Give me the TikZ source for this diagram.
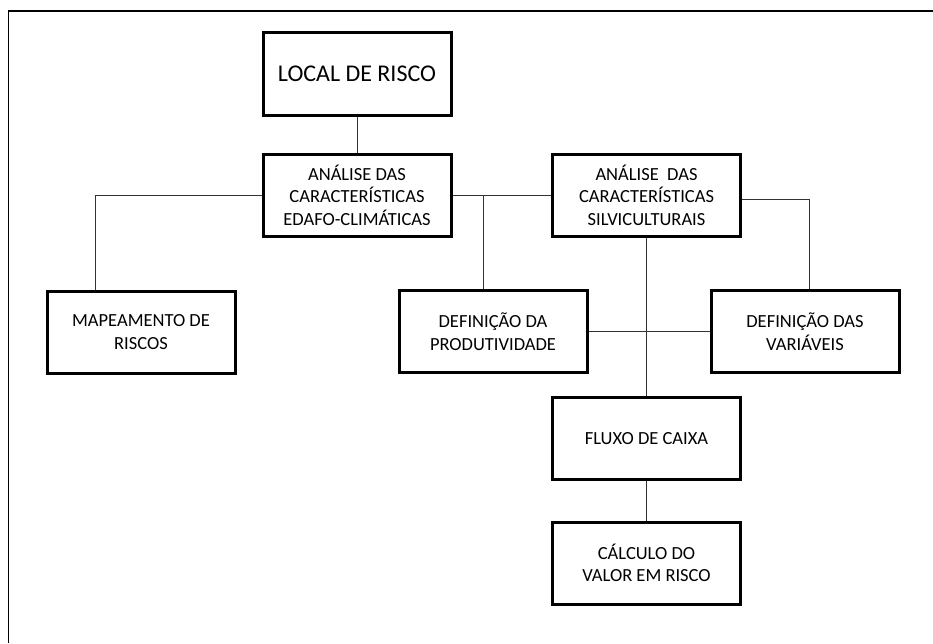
\documentclass[tikz,border=0pt]{standalone}
\usepackage{fontspec}
\setmainfont{Carlito}
\usepackage{tikz}

\begin{document}
\begin{tikzpicture}[x=1pt,y=-1pt,
  caixa/.style={draw,line width=3pt,minimum width=188pt,minimum height=82pt,
    align=center,inner sep=0pt,font=\fontsize{18.5}{22.5}\selectfont},
  liga/.style={line width=1pt,black!80}]
\useasboundingbox (0,0) rectangle (933,643);
\draw[line width=1.4pt] (8.5,643)--(8.5,11)--(933,11);
% caixas
\node[caixa,minimum height=83pt,font=\fontsize{24}{28}\selectfont] (local) at (357,73.5) {LOCAL DE RISCO};
\node[caixa] (edafo) at (357,195) {ANÁLISE DAS\\CARACTERÍSTICAS\\EDAFO-CLIMÁTICAS};
\node[caixa] (silv) at (646.5,195) {ANÁLISE\ \ DAS\\CARACTERÍSTICAS\\SILVICULTURAIS};
\node[caixa] (mapa) at (141,332) {MAPEAMENTO DE\\RISCOS};
\node[caixa] (produt) at (493,331.5) {DEFINIÇÃO DA\\PRODUTIVIDADE};
\node[caixa] (variav) at (805,331.5) {DEFINIÇÃO DAS\\VARIÁVEIS};
\node[caixa] (fluxo) at (646.5,438.5) {FLUXO DE CAIXA};
\node[caixa] (calculo) at (646.5,563) {CÁLCULO DO\\VALOR EM RISCO};
% ligacoes
\coordinate (jm) at (95,195);
\coordinate (jp) at (483,195);
\coordinate (jv) at (809,199);
\draw[liga] (local)--(edafo);
\draw[liga] (edafo.west)--(jm)--(jm |- mapa.north);
\draw[liga] (edafo)--(silv);
\draw[liga] (jp)--(jp |- produt.north);
\draw[liga] (silv.east |- jv)--(jv)--(jv |- variav.north);
\draw[liga] (silv)--(fluxo);
\draw[liga] (produt)--(variav);
\draw[liga] (fluxo)--(calculo);
\end{tikzpicture}
\end{document}
